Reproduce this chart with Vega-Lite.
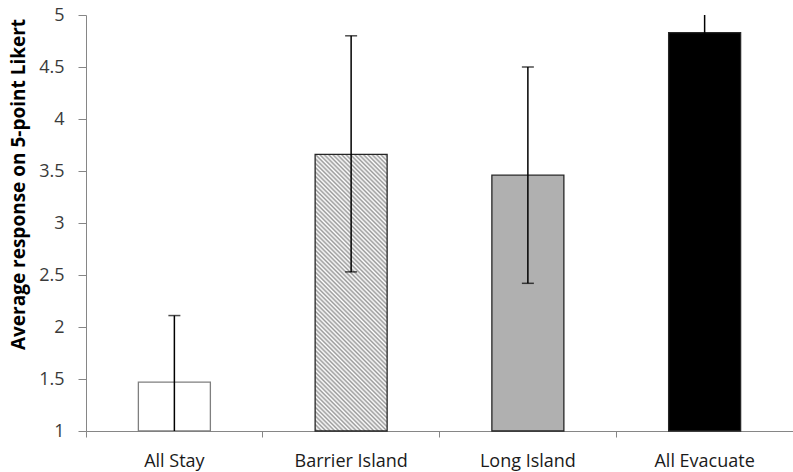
{
  "$schema": "https://vega.github.io/schema/vega-lite/v6.json",
  "width": 707,
  "height": 416,
  "autosize": {"type": "none"},
  "padding": {"left": 86, "top": 15, "right": 0, "bottom": 41},
  "background": "white",
  "config": {"view": {"stroke": null}, "font": "Open Sans"},
  "data": {
    "values": [
      {"cat": "All Stay", "mean": 1.47, "lo": 0.83, "hi": 2.11},
      {"cat": "Barrier Island", "mean": 3.66, "lo": 2.53, "hi": 4.8},
      {"cat": "Long Island", "mean": 3.46, "lo": 2.42, "hi": 4.5},
      {"cat": "All Evacuate", "mean": 4.83, "lo": 4.66, "hi": 5.17}
    ]
  },
  "encoding": {
    "x": {
      "field": "cat",
      "type": "nominal",
      "sort": null,
      "scale": {"domain": ["All Stay", "Barrier Island", "Long Island", "All Evacuate"], "paddingInner": 0, "paddingOuter": 0},
      "axis": {
        "title": null,
        "labelAngle": 0,
        "bandPosition": 0,
        "tickSize": 6,
        "tickColor": "#868686",
        "domainColor": "#868686",
        "labelColor": "#1a1a1a",
        "labelFontSize": 18,
        "labelPadding": 15,
        "grid": false
      }
    }
  },
  "layer": [
    {
      "transform": [{"filter": "datum.cat !== 'Barrier Island'"}],
      "mark": {"type": "bar", "width": 72, "strokeWidth": 1.3},
      "encoding": {
        "y": {
          "field": "mean",
          "type": "quantitative",
          "scale": {"domain": [1, 5], "nice": false, "zero": false},
          "axis": {
            "title": "Average response on 5-point Likert",
            "values": [1, 1.5, 2, 2.5, 3, 3.5, 4, 4.5, 5],
            "format": ".1~f",
            "tickSize": 8,
            "labelPadding": 14,
            "labelFontSize": 18,
            "labelColor": "#3a3a3a",
            "domainColor": "#868686",
            "tickColor": "#868686",
            "grid": false,
            "titleFontSize": 19,
            "titleFontWeight": "bold",
            "titleColor": "#000000",
            "titleX": -68,
            "titleY": 169,
            "titleBaseline": "middle"
          }
        },
        "y2": {"datum": 1},
        "fill": {
          "condition": [
            {"test": "datum.cat === 'All Stay'", "value": "#ffffff"},
            {"test": "datum.cat === 'Long Island'", "value": "#b0b0b0"}
          ],
          "value": "#000000"
        },
        "stroke": {
          "condition": {"test": "datum.cat === 'All Stay'", "value": "#7f7f7f"},
          "value": "#262626"
        }
      }
    },
    {
      "transform": [{"filter": "datum.cat === 'Barrier Island'"}],
      "mark": {
        "type": "bar",
        "width": 72,
        "strokeWidth": 1.3,
        "stroke": "#262626",
        "fill": {
          "gradient": "linear",
          "x1": 0, "y1": 1, "x2": 0.3072, "y2": -0.1803,
          "stops": [
            {"offset": 0, "color": "#fff"}, {"offset": 0.00625, "color": "#999"},
            {"offset": 0.0125, "color": "#fff"}, {"offset": 0.01875, "color": "#999"},
            {"offset": 0.025, "color": "#fff"}, {"offset": 0.03125, "color": "#999"},
            {"offset": 0.0375, "color": "#fff"}, {"offset": 0.04375, "color": "#999"},
            {"offset": 0.05, "color": "#fff"}, {"offset": 0.05625, "color": "#999"},
            {"offset": 0.0625, "color": "#fff"}, {"offset": 0.06875, "color": "#999"},
            {"offset": 0.075, "color": "#fff"}, {"offset": 0.08125, "color": "#999"},
            {"offset": 0.0875, "color": "#fff"}, {"offset": 0.09375, "color": "#999"},
            {"offset": 0.1, "color": "#fff"}, {"offset": 0.10625, "color": "#999"},
            {"offset": 0.1125, "color": "#fff"}, {"offset": 0.11875, "color": "#999"},
            {"offset": 0.125, "color": "#fff"}, {"offset": 0.13125, "color": "#999"},
            {"offset": 0.1375, "color": "#fff"}, {"offset": 0.14375, "color": "#999"},
            {"offset": 0.15, "color": "#fff"}, {"offset": 0.15625, "color": "#999"},
            {"offset": 0.1625, "color": "#fff"}, {"offset": 0.16875, "color": "#999"},
            {"offset": 0.175, "color": "#fff"}, {"offset": 0.18125, "color": "#999"},
            {"offset": 0.1875, "color": "#fff"}, {"offset": 0.19375, "color": "#999"},
            {"offset": 0.2, "color": "#fff"}, {"offset": 0.20625, "color": "#999"},
            {"offset": 0.2125, "color": "#fff"}, {"offset": 0.21875, "color": "#999"},
            {"offset": 0.225, "color": "#fff"}, {"offset": 0.23125, "color": "#999"},
            {"offset": 0.2375, "color": "#fff"}, {"offset": 0.24375, "color": "#999"},
            {"offset": 0.25, "color": "#fff"}, {"offset": 0.25625, "color": "#999"},
            {"offset": 0.2625, "color": "#fff"}, {"offset": 0.26875, "color": "#999"},
            {"offset": 0.275, "color": "#fff"}, {"offset": 0.28125, "color": "#999"},
            {"offset": 0.2875, "color": "#fff"}, {"offset": 0.29375, "color": "#999"},
            {"offset": 0.3, "color": "#fff"}, {"offset": 0.30625, "color": "#999"},
            {"offset": 0.3125, "color": "#fff"}, {"offset": 0.31875, "color": "#999"},
            {"offset": 0.325, "color": "#fff"}, {"offset": 0.33125, "color": "#999"},
            {"offset": 0.3375, "color": "#fff"}, {"offset": 0.34375, "color": "#999"},
            {"offset": 0.35, "color": "#fff"}, {"offset": 0.35625, "color": "#999"},
            {"offset": 0.3625, "color": "#fff"}, {"offset": 0.36875, "color": "#999"},
            {"offset": 0.375, "color": "#fff"}, {"offset": 0.38125, "color": "#999"},
            {"offset": 0.3875, "color": "#fff"}, {"offset": 0.39375, "color": "#999"},
            {"offset": 0.4, "color": "#fff"}, {"offset": 0.40625, "color": "#999"},
            {"offset": 0.4125, "color": "#fff"}, {"offset": 0.41875, "color": "#999"},
            {"offset": 0.425, "color": "#fff"}, {"offset": 0.43125, "color": "#999"},
            {"offset": 0.4375, "color": "#fff"}, {"offset": 0.44375, "color": "#999"},
            {"offset": 0.45, "color": "#fff"}, {"offset": 0.45625, "color": "#999"},
            {"offset": 0.4625, "color": "#fff"}, {"offset": 0.46875, "color": "#999"},
            {"offset": 0.475, "color": "#fff"}, {"offset": 0.48125, "color": "#999"},
            {"offset": 0.4875, "color": "#fff"}, {"offset": 0.49375, "color": "#999"},
            {"offset": 0.5, "color": "#fff"}, {"offset": 0.50625, "color": "#999"},
            {"offset": 0.5125, "color": "#fff"}, {"offset": 0.51875, "color": "#999"},
            {"offset": 0.525, "color": "#fff"}, {"offset": 0.53125, "color": "#999"},
            {"offset": 0.5375, "color": "#fff"}, {"offset": 0.54375, "color": "#999"},
            {"offset": 0.55, "color": "#fff"}, {"offset": 0.55625, "color": "#999"},
            {"offset": 0.5625, "color": "#fff"}, {"offset": 0.56875, "color": "#999"},
            {"offset": 0.575, "color": "#fff"}, {"offset": 0.58125, "color": "#999"},
            {"offset": 0.5875, "color": "#fff"}, {"offset": 0.59375, "color": "#999"},
            {"offset": 0.6, "color": "#fff"}, {"offset": 0.60625, "color": "#999"},
            {"offset": 0.6125, "color": "#fff"}, {"offset": 0.61875, "color": "#999"},
            {"offset": 0.625, "color": "#fff"}, {"offset": 0.63125, "color": "#999"},
            {"offset": 0.6375, "color": "#fff"}, {"offset": 0.64375, "color": "#999"},
            {"offset": 0.65, "color": "#fff"}, {"offset": 0.65625, "color": "#999"},
            {"offset": 0.6625, "color": "#fff"}, {"offset": 0.66875, "color": "#999"},
            {"offset": 0.675, "color": "#fff"}, {"offset": 0.68125, "color": "#999"},
            {"offset": 0.6875, "color": "#fff"}, {"offset": 0.69375, "color": "#999"},
            {"offset": 0.7, "color": "#fff"}, {"offset": 0.70625, "color": "#999"},
            {"offset": 0.7125, "color": "#fff"}, {"offset": 0.71875, "color": "#999"},
            {"offset": 0.725, "color": "#fff"}, {"offset": 0.73125, "color": "#999"},
            {"offset": 0.7375, "color": "#fff"}, {"offset": 0.74375, "color": "#999"},
            {"offset": 0.75, "color": "#fff"}, {"offset": 0.75625, "color": "#999"},
            {"offset": 0.7625, "color": "#fff"}, {"offset": 0.76875, "color": "#999"},
            {"offset": 0.775, "color": "#fff"}, {"offset": 0.78125, "color": "#999"},
            {"offset": 0.7875, "color": "#fff"}, {"offset": 0.79375, "color": "#999"},
            {"offset": 0.8, "color": "#fff"}, {"offset": 0.80625, "color": "#999"},
            {"offset": 0.8125, "color": "#fff"}, {"offset": 0.81875, "color": "#999"},
            {"offset": 0.825, "color": "#fff"}, {"offset": 0.83125, "color": "#999"},
            {"offset": 0.8375, "color": "#fff"}, {"offset": 0.84375, "color": "#999"},
            {"offset": 0.85, "color": "#fff"}, {"offset": 0.85625, "color": "#999"},
            {"offset": 0.8625, "color": "#fff"}, {"offset": 0.86875, "color": "#999"},
            {"offset": 0.875, "color": "#fff"}, {"offset": 0.88125, "color": "#999"},
            {"offset": 0.8875, "color": "#fff"}, {"offset": 0.89375, "color": "#999"},
            {"offset": 0.9, "color": "#fff"}, {"offset": 0.90625, "color": "#999"},
            {"offset": 0.9125, "color": "#fff"}, {"offset": 0.91875, "color": "#999"},
            {"offset": 0.925, "color": "#fff"}, {"offset": 0.93125, "color": "#999"},
            {"offset": 0.9375, "color": "#fff"}, {"offset": 0.94375, "color": "#999"},
            {"offset": 0.95, "color": "#fff"}, {"offset": 0.95625, "color": "#999"},
            {"offset": 0.9625, "color": "#fff"}, {"offset": 0.96875, "color": "#999"},
            {"offset": 0.975, "color": "#fff"}, {"offset": 0.98125, "color": "#999"},
            {"offset": 0.9875, "color": "#fff"}, {"offset": 0.99375, "color": "#999"},
            {"offset": 1, "color": "#fff"}
          ]
        }
      },
      "encoding": {
        "y": {"field": "mean", "type": "quantitative", "scale": {"domain": [1, 5], "nice": false, "zero": false}},
        "y2": {"datum": 1}
      }
    },
    {
      "mark": {"type": "rule", "color": "#000000", "strokeWidth": 1.5, "clip": true},
      "encoding": {
        "y": {"field": "lo", "type": "quantitative", "scale": {"domain": [1, 5], "nice": false, "zero": false}},
        "y2": {"field": "hi"}
      }
    },
    {
      "mark": {"type": "tick", "color": "#000000", "thickness": 1.5, "size": 12, "clip": true, "orient": "horizontal"},
      "encoding": {
        "y": {"field": "hi", "type": "quantitative", "scale": {"domain": [1, 5], "nice": false, "zero": false}}
      }
    },
    {
      "mark": {"type": "tick", "color": "#000000", "thickness": 1.5, "size": 12, "clip": true, "orient": "horizontal"},
      "encoding": {
        "y": {"field": "lo", "type": "quantitative", "scale": {"domain": [1, 5], "nice": false, "zero": false}}
      }
    }
  ]
}
